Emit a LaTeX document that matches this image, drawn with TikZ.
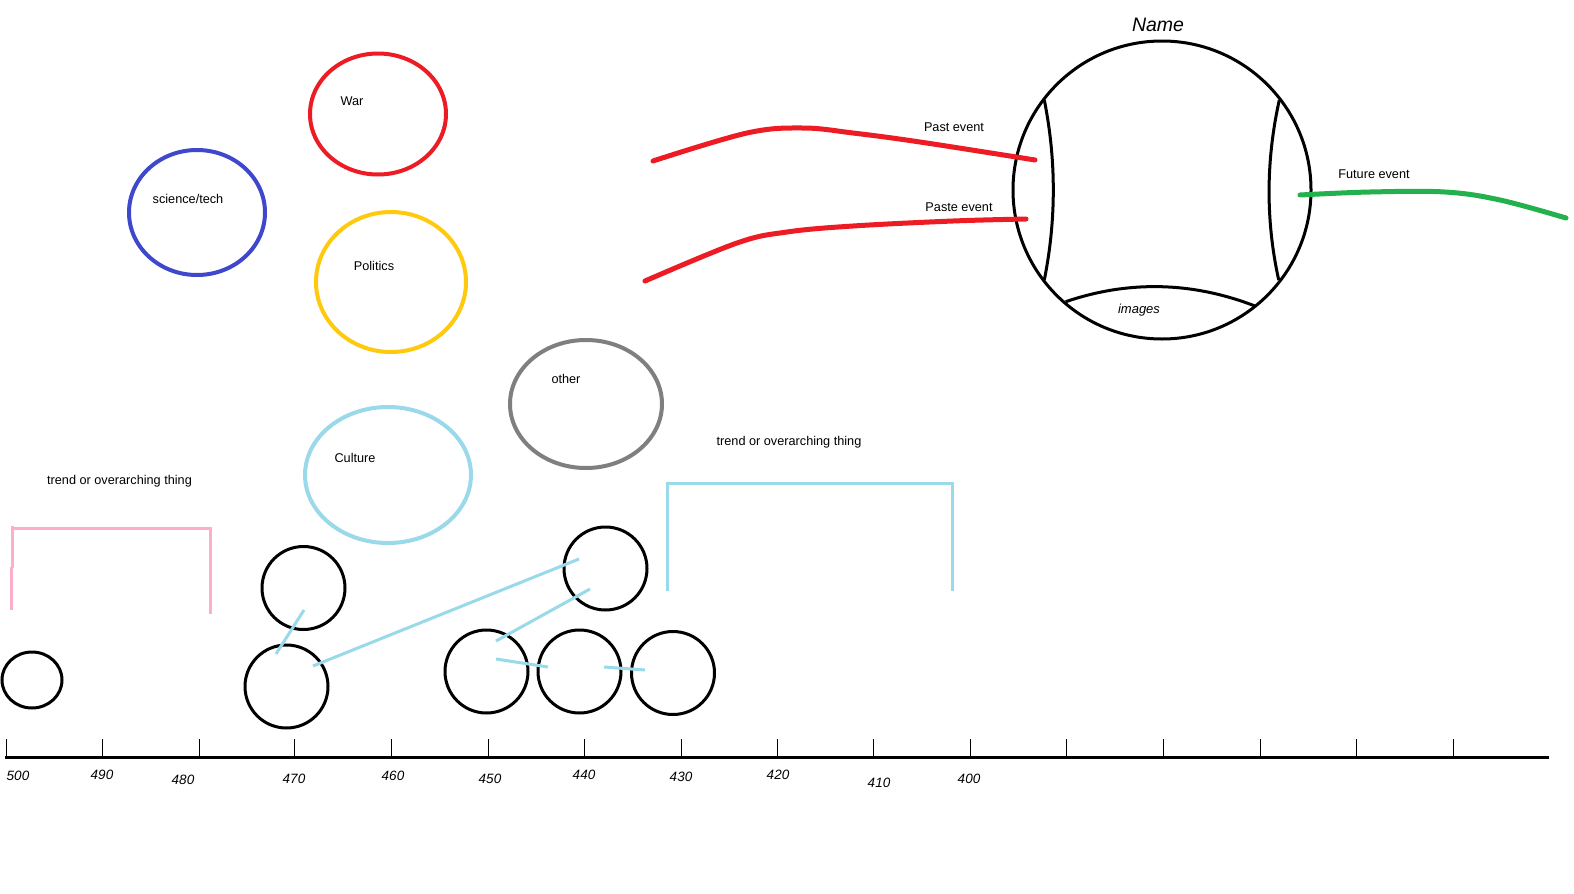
\documentclass[tikz,border=0pt]{standalone}
\usepackage{fontspec}
\setmainfont{Liberation Sans}
\usetikzlibrary{shapes.geometric}
\definecolor{pred}{HTML}{ED1C24}
\definecolor{pblue}{HTML}{3F48CC}
\definecolor{pyellow}{HTML}{FFC90E}
\definecolor{pgray}{HTML}{7F7F7F}
\definecolor{plblue}{HTML}{99D9EA}
\definecolor{ppink}{HTML}{FFAEC9}
\definecolor{pgreen}{HTML}{22B14C}
\tikzset{
  topic/.style={draw, ellipse, line width=4, inner sep=0, outer sep=0},
  event/.style={draw, circle, black, line width=3, inner sep=0, minimum size=83},
  smallevent/.style={draw, ellipse, black, line width=3, inner sep=0, minimum width=60, minimum height=56},
  lbl/.style={inner sep=0, font=\fontsize{12.7}{14}\selectfont},
  yr/.style={inner sep=0, font=\fontsize{13.5}{15}\selectfont\itshape},
  link/.style={plblue, line width=3},
  bracketline/.style={line width=3},
  tick/.style={line width=1},
  stroke/.style={line width=5, line cap=round},
}
\begin{document}
\begin{tikzpicture}[x=1pt,y=-1pt]
\useasboundingbox[fill=white] (0,0) rectangle (1574,894);

% topic ellipses
\node[topic, pred, minimum width=136, minimum height=121] (war) at (378,114) {};
\node[lbl] (warl) at (352,101) {War};
\node[topic, pblue, minimum width=136, minimum height=125] (sci) at (197,212.5) {};
\node[lbl] (scil) at (188,199) {science/tech};
\node[topic, pyellow, minimum width=150, minimum height=140] (pol) at (391,282) {};
\node[lbl] (poll) at (374,266) {Politics};
\node[topic, pgray, minimum width=152, minimum height=128] (oth) at (586,404) {};
\node[lbl] (othl) at (566,379) {other};
\node[topic, plblue, minimum width=166, minimum height=136] (cul) at (388,475) {};
\node[lbl] (cull) at (355,458) {Culture};

% trend labels and brackets
\node[lbl] (tr1) at (119.5,481) {trend or overarching thing};
\node[lbl] (tr2) at (789,442) {trend or overarching thing};
\draw[ppink, bracketline] (12.7,526) -- (12.7,568);
\draw[ppink, bracketline] (11.3,567) -- (11.3,609.5);
\draw[ppink, bracketline] (11.3,528.3) -- (210.3,528.3) -- (210.3,614);
\draw[plblue, bracketline] (667.5,591) -- (667.5,483) -- (952.5,483) -- (952.5,591);

% event circles
\node[smallevent] (e0) at (32,680) {};
\node[event] (ea) at (303.5,588) {};
\node[event] (eb) at (286.5,686.5) {};
\node[event] (ec) at (605.5,568.5) {};
\node[event] (ed) at (486.5,671.5) {};
\node[event] (ee) at (579.5,671.5) {};
\node[event] (ef) at (673,673) {};

% links
\coordinate (l1a) at (304,610); \coordinate (l1b) at (276,654);
\coordinate (l2a) at (313,666); \coordinate (l2b) at (579,559);
\coordinate (l3a) at (590,589); \coordinate (l3b) at (496,641);
\coordinate (l4a) at (496,659); \coordinate (l4b) at (548,667);
\coordinate (l5a) at (604,667); \coordinate (l5b) at (645,670);
\draw[link] (l1a) -- (l1b);
\draw[link] (l2a) -- (l2b);
\draw[link] (l3a) -- (l3b);
\draw[link] (l4a) -- (l4b);
\draw[link] (l5a) -- (l5b);

% big circle
\node[draw, circle, line width=3, inner sep=0, minimum size=298] (big) at (1162,190) {};
\node[inner sep=0, font=\fontsize{19.5}{22}\selectfont\itshape] (name) at (1158,25) {Name};
\draw[line width=3] (1044.3,100) .. controls (1056.3,160) and (1056.3,220) .. (1044.3,280);
\draw[line width=3] (1279.3,100) .. controls (1266,160) and (1265.5,220) .. (1278.7,280);
\draw[line width=3] (1065.7,301.7) .. controls (1128.8,280.2) and (1192,281.7) .. (1255,306);
\node[inner sep=0, font=\fontsize{13}{15}\selectfont\itshape] (img) at (1139,310.5) {images};

% event strokes
\coordinate (p1s) at (653,161); \coordinate (p1e) at (1035,160);
\coordinate (p2s) at (645,281); \coordinate (p2e) at (1026,219);
\coordinate (fs) at (1300,195); \coordinate (fe) at (1566,218);
\draw[pred, stroke] plot[smooth, tension=0.6] coordinates {(p1s) (747,133) (803,128) (853,133) (920,142) (p1e)};
\draw[pred, stroke] plot[smooth, tension=0.6] coordinates {(p2s) (737,243) (787,232) (853,226) (953,221) (p2e)};
\draw[pgreen, stroke] plot[smooth, tension=0.6] coordinates {(fs) (1370,192) (1445,192) (1500,200) (fe)};
\node[lbl] (pastl) at (954,127) {Past event};
\node[lbl] (pastel) at (959,207) {Paste event};
\node[lbl] (futl) at (1374,174) {Future event};

% axis
\coordinate (ax0) at (5,757.5); \coordinate (ax1) at (1549,757.5);
\draw[line width=3.5] (ax0) -- (ax1);
\foreach \x in {6,102,199,294,391,488,584,681,777,873,970,1066,1163,1260,1356,1453}
  \draw[tick] (\x,739) -- (\x,757);
\node[yr] at (18,776) {500};
\node[yr] at (102,775) {490};
\node[yr] at (183,780) {480};
\node[yr] at (294,779) {470};
\node[yr] at (393,776) {460};
\node[yr] at (490,779) {450};
\node[yr] at (584,775) {440};
\node[yr] at (681,777) {430};
\node[yr] at (778,775) {420};
\node[yr] at (879,783) {410};
\node[yr] at (969,779) {400};
\end{tikzpicture}
\end{document}
